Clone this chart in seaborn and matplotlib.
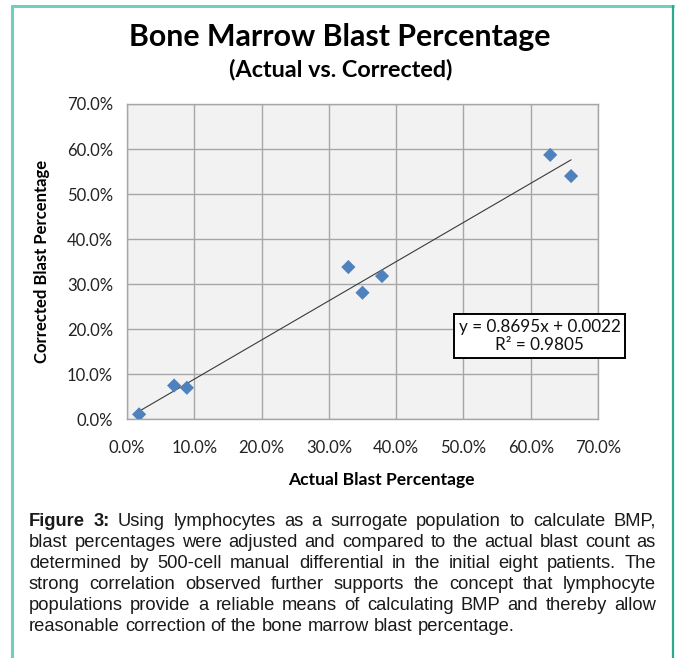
import numpy as np
import pandas as pd
import seaborn as sns
import matplotlib.pyplot as plt
from matplotlib.lines import Line2D
from matplotlib.ticker import PercentFormatter

# --- DATA ---
actual = [0.018, 0.070, 0.089, 0.329, 0.350, 0.379, 0.629, 0.660]
corrected = [0.011, 0.075, 0.070, 0.338, 0.281, 0.318, 0.587, 0.540]
slope, intercept, r2 = 0.8695, 0.0022, 0.9805
ticks = [0.0, 0.1, 0.2, 0.3, 0.4, 0.5, 0.6, 0.7]

caption_lines = [
    "Figure 3: Using lymphocytes as a surrogate population to calculate BMP,",
    "blast percentages were adjusted and compared to the actual blast count as",
    "determined by 500-cell manual differential in the initial eight patients. The",
    "strong correlation observed further supports the concept that lymphocyte",
    "populations provide a reliable means of calculating BMP and thereby allow",
    "reasonable correction of the bone marrow blast percentage.",
]

df = pd.DataFrame({"Actual": actual, "Corrected": corrected})

W, H = 676, 658
sns.set_theme(style="whitegrid")
plt.rcParams['font.family'] = ['Lato', 'DejaVu Sans']

fig = plt.figure(figsize=(W / 100, H / 100), dpi=100)
fig.patch.set_facecolor('white')
ax = fig.add_axes([127 / W, 1 - 419.3 / H, (598 - 127) / W, (419.3 - 104) / H])
ax.set_facecolor('#F2F2F2')

sns.scatterplot(data=df, x="Actual", y="Corrected", marker="D", s=52,
                color="#4F81BD", edgecolor="none", ax=ax, zorder=3)

xs = np.array([min(actual), max(actual)])
ax.plot(xs, slope * xs + intercept, color="#3a3a3a", lw=0.8, zorder=2)

ax.set_xlim(0, 0.7)
ax.set_ylim(0, 0.7)
ax.set_xticks(ticks)
ax.set_yticks(ticks)
ax.xaxis.set_major_formatter(PercentFormatter(1.0, decimals=1))
ax.yaxis.set_major_formatter(PercentFormatter(1.0, decimals=1))
ax.tick_params(axis='both', length=0, labelsize=12, labelcolor='#222222')
ax.tick_params(axis='y', pad=10)
ax.tick_params(axis='x', pad=15)
ax.grid(True, color='#A6A6A6', lw=1)
for sp in ax.spines.values():
    sp.set_color('#A6A6A6')
    sp.set_linewidth(1)
ax.set_xlabel("")
ax.set_ylabel("")

ax.text(0.613, 0.185, "y = 0.8695x + 0.0022\nR² = 0.9805", ha='center', va='center',
        fontsize=12.3, linespacing=1.2, color='#111111', zorder=5,
        bbox=dict(boxstyle='square,pad=0.25', facecolor='white', edgecolor='black', lw=1.4))

fig.text(340 / W, 1 - 37 / H, "Bone Marrow Blast Percentage", ha='center', va='center',
         fontsize=21.8, fontweight='bold', color='black')
fig.text(341 / W, 1 - 70 / H, "(Actual vs. Corrected)", ha='center', va='center',
         fontsize=16.8, fontweight='bold', color='black')
fig.text(42 / W, 1 - 261 / H, "Corrected Blast Percentage", ha='center', va='center',
         rotation=90, fontsize=12, fontweight='bold', color='black')
fig.text(381 / W, 1 - 480 / H, "Actual Blast Percentage", ha='center', va='center',
         fontsize=12.6, fontweight='bold', color='black')

# --- teal frame ---
fig.add_artist(Line2D([12 / W, 12 / W], [0, 1 - 6 / H], color='#6ECFBE', lw=2.2))
fig.add_artist(Line2D([12 / W, 673 / W], [1 - 6 / H, 1 - 6 / H], color='#6ECFBE', lw=2.2))
fig.add_artist(Line2D([673 / W, 673 / W], [0, 1 - 6 / H], color='#2BA98F', lw=1.6))

# --- justified caption ---
renderer = fig.canvas.get_renderer()
left, right = 29, 656
cap_size = 13.2
cap_font = ['Liberation Sans', 'DejaVu Sans']
for i, line in enumerate(caption_lines):
    baseline = 1 - (526 + 21 * i) / H
    words = line.split(" ")
    items = []
    for j, w in enumerate(words):
        bold = i == 0 and j < 2
        t = fig.text(0, baseline, w, fontsize=cap_size, family=cap_font,
                     fontweight='bold' if bold else 'normal', color='#1a1a1a', va='baseline')
        items.append(t)
    widths = [t.get_window_extent(renderer).width for t in items]
    if i < len(caption_lines) - 1:
        gap = (right - left - sum(widths)) / (len(items) - 1)
    else:
        gap = cap_size * 100 / 72 * 0.278
    x = left
    for t, w in zip(items, widths):
        t.set_x(x / W)
        x += w + gap

fig.savefig("out.png", dpi=100)
